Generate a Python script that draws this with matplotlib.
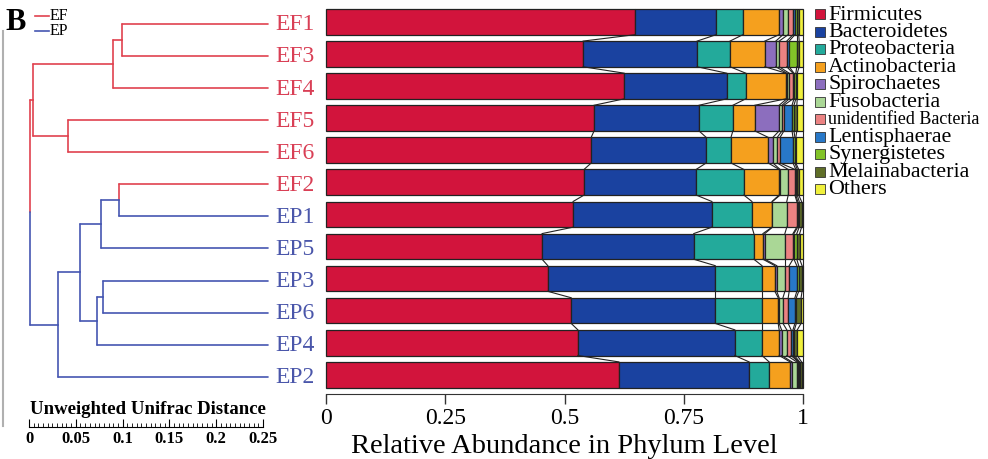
import numpy as np
import matplotlib.pyplot as plt
from matplotlib.lines import Line2D
from matplotlib.patches import Rectangle
from matplotlib.ticker import FuncFormatter, MultipleLocator

plt.rcParams['font.family'] = ['Liberation Serif', 'DejaVu Serif']

# samples in dendrogram order (top -> bottom)
samples = ['EF1', 'EF3', 'EF4', 'EF5', 'EF6', 'EF2', 'EP1', 'EP5', 'EP3', 'EP6', 'EP4', 'EP2']

phyla = ['Firmicutes', 'Bacteroidetes', 'Proteobacteria', 'Actinobacteria', 'Spirochaetes',
         'Fusobacteria', 'unidentified Bacteria', 'Lentisphaerae', 'Synergistetes',
         'Melainabacteria', 'Others']

firmicutes = [0.648, 0.539, 0.625, 0.562, 0.556, 0.541, 0.518, 0.453, 0.465, 0.514, 0.528, 0.614]
bacteroidetes = [0.170, 0.239, 0.215, 0.220, 0.241, 0.235, 0.291, 0.318, 0.351, 0.302, 0.329, 0.273]
proteobacteria = [0.056, 0.069, 0.040, 0.071, 0.052, 0.100, 0.084, 0.126, 0.098, 0.098, 0.057, 0.042]
actinobacteria = [0.076, 0.073, 0.084, 0.046, 0.078, 0.074, 0.042, 0.019, 0.027, 0.034, 0.036, 0.044]
spirochaetes = [0.008, 0.023, 0.002, 0.051, 0.010, 0.002, 0.001, 0.004, 0.004, 0.002, 0.005, 0.004]
fusobacteria = [0.011, 0.007, 0.005, 0.006, 0.009, 0.017, 0.030, 0.042, 0.017, 0.008, 0.011, 0.010]
unidentified = [0.010, 0.016, 0.008, 0.004, 0.006, 0.014, 0.021, 0.017, 0.009, 0.011, 0.009, 0.003]
lentisphaerae = [0.004, 0.005, 0.002, 0.017, 0.027, 0.002, 0.002, 0.002, 0.016, 0.014, 0.004, 0.001]
synergistetes = [0.004, 0.016, 0.004, 0.004, 0.004, 0.003, 0.003, 0.006, 0.004, 0.003, 0.003, 0.002]
melainabacteria = [0.004, 0.005, 0.003, 0.006, 0.002, 0.003, 0.005, 0.006, 0.007, 0.010, 0.006, 0.004]
others = [0.009, 0.008, 0.012, 0.013, 0.015, 0.009, 0.003, 0.007, 0.002, 0.004, 0.012, 0.003]

colors = ['#d2143c', '#1a42a0', '#23aa9b', '#f5a01e', '#8c6ebe', '#aad796',
          '#eb8282', '#2878c8', '#82c328', '#5f6e28', '#f0f03c']

# dendrogram: (left child, right child, position on the distance scale)
merges = {
    'n1': ('EF1', 'EF3', 0.0994),
    'n2': ('n1', 'EF4', 0.0897),
    'n3': ('EF5', 'EF6', 0.0417),
    'n4': ('n2', 'n3', 0.0043),
    'n5': ('EF2', 'EP1', 0.0962),
    'n6': ('n5', 'EP5', 0.0769),
    'n7': ('EP3', 'EP6', 0.0791),
    'n8': ('n7', 'EP4', 0.0726),
    'n9': ('n6', 'n8', 0.0545),
    'n10': ('n9', 'EP2', 0.0310),
    'root': ('n4', 'n10', 0.0011),
}
leaf_x = 0.2553

red = '#e0424f'
blue = '#4656b2'
label_red = '#d93f55'
label_blue = '#4a56aa'

fig = plt.figure(figsize=(9.88, 4.6), dpi=100)
W, H = 988, 460


def px_axes(x0, y0, x1, y1):
    # pixel box (top-left origin) -> figure fraction
    return [x0 / W, 1 - y1 / H, (x1 - x0) / W, (y1 - y0) / H]


# ---------------- stacked bars ----------------
ax = fig.add_axes(px_axes(326, 10, 803, 395))
vals = np.array([firmicutes, bacteroidetes, proteobacteria, actinobacteria, spirochaetes,
                 fusobacteria, unidentified, lentisphaerae, synergistetes, melainabacteria, others]).T
ypos = np.arange(len(samples))
cum = np.zeros(len(samples))
bh = 0.8
for j in range(len(phyla)):
    ax.barh(ypos, vals[:, j], left=cum, height=bh, color=colors[j],
            edgecolor='#222222', linewidth=0.9, clip_on=False)
    cum = cum + vals[:, j]

bounds = np.cumsum(vals, axis=1)
for i in range(len(samples) - 1):
    for k in range(len(phyla)):
        ax.plot([bounds[i, k], bounds[i + 1, k]], [i + bh / 2, i + 1 - bh / 2],
                color='#222222', lw=0.8, clip_on=False)

ax.set_xlim(0, 1)
ax.set_ylim(len(samples) - 0.4, -0.4)
for s in ['top', 'right', 'left']:
    ax.spines[s].set_visible(False)
ax.spines['bottom'].set_color('#333333')
ax.set_yticks([])
ax.set_xticks([0, 0.25, 0.5, 0.75, 1])
ax.xaxis.set_major_formatter(FuncFormatter(lambda v, p: '%g' % v))
ax.tick_params(axis='x', direction='out', length=7, width=1, labelsize=17, pad=2, color='#333333')
ax.set_xlabel('Relative Abundance in Phylum Level', fontsize=20.5, labelpad=4)

# ---------------- dendrogram ----------------
dax = fig.add_axes(px_axes(0, 12, 326, 397))
dax.set_xlim(-29 / 936, 297 / 936)
dax.set_ylim(len(samples) - 0.4, -0.4)
dax.axis('off')

ypos_of = {s: i for i, s in enumerate(samples)}
xpos_of = {s: leaf_x for s in samples}
col_of = {s: (red if s.startswith('EF') else blue) for s in samples}
for name, (a, b, x) in merges.items():
    y = (ypos_of[a] + ypos_of[b]) / 2
    for c in (a, b):
        dax.plot([x, xpos_of[c]], [ypos_of[c], ypos_of[c]], color=col_of[c], lw=1.2,
                 solid_capstyle='round')
        dax.plot([x, x], [ypos_of[c], y], color=col_of[c], lw=1.2, solid_capstyle='round')
    ypos_of[name] = y
    xpos_of[name] = x
    col_of[name] = red if (col_of[a] == red and col_of[b] == red) else blue

for s in samples:
    dax.text(leaf_x + 7 / 936, ypos_of[s], s, fontsize=17, va='center', ha='left',
             color=label_red if s.startswith('EF') else label_blue)

# scale bar
sax = fig.add_axes(px_axes(29, 427, 263, 428))
sax.set_xlim(0, 0.25)
sax.set_yticks([])
for s in ['top', 'right', 'left']:
    sax.spines[s].set_visible(False)
sax.patch.set_alpha(0)
sax.xaxis.set_major_locator(MultipleLocator(0.05))
sax.xaxis.set_minor_locator(MultipleLocator(0.005))
sax.xaxis.set_major_formatter(FuncFormatter(lambda v, p: '%g' % round(v, 3)))
sax.tick_params(axis='x', which='major', direction='in', length=6, width=0.8, labelsize=12, pad=2)
sax.tick_params(axis='x', which='minor', direction='in', length=3, width=0.6)
for t in sax.get_xticklabels():
    t.set_fontweight('bold')
fig.text(148 / W, 1 - 410 / H, 'Unweighted Unifrac Distance', fontsize=13.5, fontweight='bold',
         ha='center', va='center')

# panel letter and group key
fig.text(5 / W, 1 - 22 / H, 'B', fontsize=22, fontweight='bold', ha='left', va='center')
fig.add_artist(Line2D([35 / W, 49 / W], [1 - 17 / H, 1 - 17 / H], color=red, lw=1.2))
fig.add_artist(Line2D([35 / W, 49 / W], [1 - 32 / H, 1 - 32 / H], color=blue, lw=1.2))
fig.text(50 / W, 1 - 16 / H, 'EF', fontsize=11.5, ha='left', va='center')
fig.text(50 / W, 1 - 31 / H, 'EP', fontsize=11.5, ha='left', va='center')
fig.add_artist(Line2D([3 / W, 3 / W], [1 - 32 / H, 1 - 427 / H], color='#b0b0b0', lw=1.5))

# ---------------- legend ----------------
for j, name in enumerate(phyla):
    yc = 15 + 17.5 * j
    fig.add_artist(Rectangle((815 / W, 1 - (yc + 5) / H), 10 / W, 10 / H,
                             facecolor=colors[j], edgecolor='#333333', lw=0.6))
    fig.text(828 / W, 1 - yc / H, name, fontsize=13 if name.startswith('unid') else 15.8,
             ha='left', va='center')

fig.savefig('out.png', dpi=100)
